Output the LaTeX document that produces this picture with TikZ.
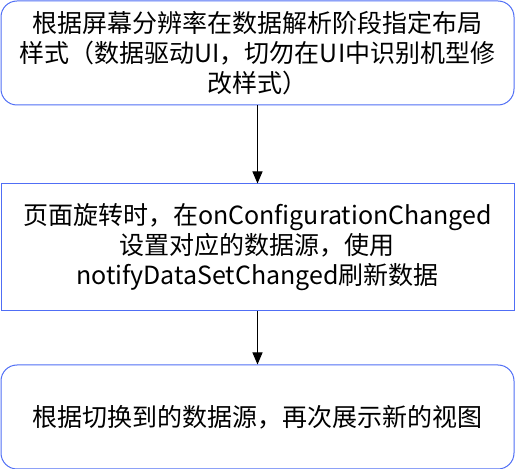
\documentclass[tikz,border=0pt]{standalone}
\usepackage{fontspec}
\setmainfont{Noto Sans CJK SC}
\usetikzlibrary{arrows.meta,positioning}
\definecolor{boxblue}{RGB}{80,110,245}
\begin{document}
\begin{tikzpicture}[x=1pt,y=1pt,
block/.style={rectangle,draw=boxblue,line width=1pt,
minimum width=513pt,text width=505pt,align=center,
font=\fontsize{25}{30}\selectfont,inner sep=0pt},
roundbox/.style={block,rounded corners=16pt,minimum height=104pt},
line/.style={draw,line width=1pt,-{Triangle[width=10pt,length=12pt]}},
]
\useasboundingbox (0,0) rectangle (515,469);
\node[roundbox] (layout) at (257.5,416) {根据屏幕分辨率在数据解析阶段指定布局\\样式（数据驱动UI，切勿在UI中识别机型修\\改样式）};
\node[block,minimum height=127pt,below=78pt of layout] (rotate) {页面旋转时，在onConfigurationChanged\\设置对应的数据源，使用\\notifyDataSetChanged刷新数据};
\node[roundbox,below=53pt of rotate] (show) {根据切换到的数据源，再次展示新的视图};
\draw[line] (layout) -- (rotate);
\draw[line] (rotate) -- (show);
\end{tikzpicture}
\end{document}
